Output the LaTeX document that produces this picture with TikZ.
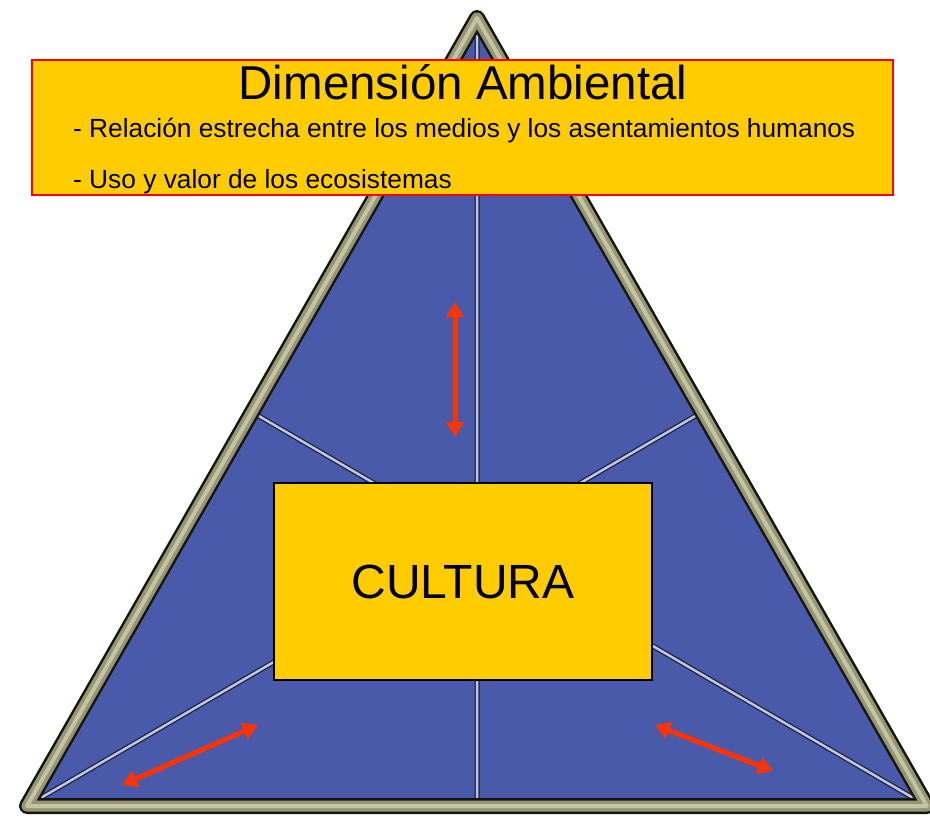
\documentclass[tikz,border=0pt]{standalone}
\usepackage{fontspec}
\setmainfont{Liberation Sans}
\usetikzlibrary{arrows.meta,calc}
\definecolor{ambar}{RGB}{255,204,0}
\definecolor{azul}{RGB}{74,90,170}
\definecolor{caqui}{RGB}{150,150,116}
\definecolor{caquiclaro}{RGB}{196,196,164}
\definecolor{rojizo}{RGB}{255,51,0}

\begin{document}
\begin{tikzpicture}[x=1pt,y=-1pt,
  caja/.style={draw,fill=ambar,inner sep=0pt},
  mediana/.style={line width=5pt,color=black!65!azul},
  medianaluz/.style={line width=2.5pt,color=azul!35!white},
  flecha/.style={{Triangle[width=17pt,length=15pt]}-{Triangle[width=17pt,length=15pt]},line width=5pt,rojizo}]
  \useasboundingbox (0,0) rectangle (930,820);
  % triangulo
  \coordinate (apex) at (477,18);
  \coordinate (izq) at (27,806);
  \coordinate (der) at (927,806);
  \coordinate (mizq) at ($(apex)!0.5!(izq)$);
  \coordinate (mder) at ($(apex)!0.5!(der)$);
  \coordinate (mbase) at (477,806);
  \fill[azul] (apex)--(izq)--(der)--cycle;
  \draw[mediana] (apex)--(mbase) (izq)--(mder) (der)--(mizq);
  \draw[medianaluz] (apex)--(mbase) (izq)--(mder) (der)--(mizq);
  \draw[line width=16pt,color=black!85!caqui,line join=round] (apex)--(izq)--(der)--cycle;
  \draw[line width=11pt,caqui,line join=round] (apex)--(izq)--(der)--cycle;
  \draw[line width=4pt,caquiclaro,line join=round] (apex)--(izq)--(der)--cycle;

  % dimension ambiental
  \node[caja,draw=red,line width=1.5pt,minimum width=861pt,minimum height=135pt] (ambiental) at (462.5,127.5) {};
  \node[anchor=base,font=\fontsize{47.5}{56}\selectfont] (titulo) at (463,99) {Dimensión Ambiental};
  \node[anchor=base west,inner sep=0pt,font=\fontsize{26.3}{31}\selectfont] (relacion) at (73,137) {- Relación estrecha entre los medios y los asentamientos humanos};
  \node[anchor=base west,inner sep=0pt,font=\fontsize{26.3}{31}\selectfont] (uso) at (73,188) {- Uso y valor de los ecosistemas};

  % cultura
  \node[caja,line width=2pt,minimum width=378pt,minimum height=197pt,font=\fontsize{48}{58}\selectfont] (cultura) at (463,581.5) {CULTURA};

  % flechas
  \coordinate (a1) at (455,302);
  \coordinate (a2) at (455,437);
  \coordinate (b1) at (122,785);
  \coordinate (b2) at (258,725);
  \coordinate (c1) at (655,725);
  \coordinate (c2) at (773,771);
  \draw[flecha] (a1)--(a2);
  \draw[flecha] (b1)--(b2);
  \draw[flecha] (c1)--(c2);
\end{tikzpicture}
\end{document}
